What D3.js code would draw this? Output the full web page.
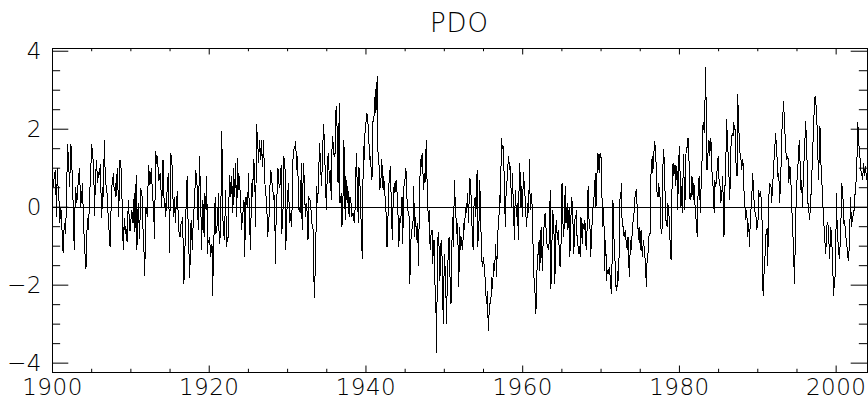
<!DOCTYPE html>
<html>
<head>
<meta charset="utf-8">
<script src="https://cdnjs.cloudflare.com/ajax/libs/d3/7.8.5/d3.min.js"></script>
<style>
  body { margin: 0; background: #fff; }
  svg text { font-family: "DejaVu Sans", sans-serif; font-weight: 200; fill: #000; }
</style>
</head>
<body>
<div id="chart"></div>
<script>
// monthly PDO index (Jan 1900 .. Dec 2003)
const startYear = 1900

const pdo1900s = [
  1.3, 0.9, 0.5, 0.7, 0.8, 0.95, 0.4, -0.26, 1.0, 0.6, 0.3, 0.1,
  -0.43, 0.0, -0.1, -0.5, -0.8, -1.2, -0.7, -0.43, -0.5, -0.7, 0.2, 0.9,
  1.6, 1.2, 0.9, 0.5, 1.1, 1.6, 1.2, 0.8, 0.3, -0.4, -1.1, -0.2,
  0.5, 0.3, 0.1, 0.3, 0.6, 0.8, 1.0, 0.5, 0.0, 0.2, 0.4, 0.6,
  -0.5, -0.7, -1.1, -1.3, -1.6, -0.9, -0.43, -0.3, -0.6, 0.0, 0.4, 0.9,
  1.2, 1.6, 1.3, 1.2, 1.0, -0.25, 0.4, 0.8, 1.2, 0.9, 0.6, 0.9,
  0.8, 0.9, 1.1, 0.4, -0.3, 0.1, 0.5, 0.25, 1.7, 1.1, 0.7, 0.5,
  0.43, 0.1, -0.25, -0.5, -0.8, -1.03, -0.3, 0.2, 0.6, 0.7, 0.86, 0.5,
  0.4, 0.6, 0.25, 0.6, 1.0, 0.5, -0.26, 0.4, 1.2, 1.1, 0.95, 0.3,
  -0.2, -1.1, -0.6, -0.3, -0.69, -0.5, -0.7, -0.9, -0.3, 0.17, -0.2, -0.6
]
const pdo1910s = [
  -0.6, -0.3, -0.09, -0.2, -0.43, 0.0, 0.34, -0.65, 0.1, 0.82, -1.12, -0.4,
  0.09, -0.3, -0.82, -0.2, 0.47, 0.3, 0.26, -0.4, -0.9, -1.2, -1.77, -0.8,
  0.0, -0.1, -0.26, 0.5, 1.08, 0.8, 0.56, 0.7, 0.99, 0.6, 0.43, 0.0,
  -0.3, -0.82, 0.5, 1.42, 1.1, 1.3, 1.21, 0.65, 0.7, 0.8, 0.86, 0.4,
  0.0, 0.6, 1.2, 0.5, 0.0, 0.1, -0.26, 0.0, 0.34, 0.6, 0.86, 0.2,
  -1.2, 0.3, 1.38, 1.2, 1.03, 0.4, -0.26, 0.26, 0.0, -0.43, 0.0, 0.2,
  0.39, -0.1, -0.6, -0.7, -0.78, -0.5, -0.4, -0.39, -0.26, -1.1, -1.98, -1.3,
  -0.86, -0.2, 0.4, 0.78, -0.1, -0.86, -1.3, -1.82, -0.9, -0.34, -0.7, -1.12,
  -0.5, -0.2, 0.09, 0.5, 0.95, 0.8, 0.6, 0.0, -0.6, 0.4, 1.29, 0.5,
  -0.09, -1.12, -0.4, 0.17, -0.3, -0.78, 0.34, 0.1, -0.09, 0.78, -1.21, -0.9
]
const pdo1920s = [
  -0.9, -0.78, -1.0, -1.29, -1.1, -0.95, -2.28, -1.4, -0.78, -0.2, 0.26, -0.69,
  -0.6, -0.43, -0.1, 0.34, -0.95, -0.8, -0.78, 0.5, 1.94, 0.6, -0.52, -0.7,
  -0.86, -0.2, 0.43, -1.03, -0.9, -0.8, -0.78, 0.2, 0.82, 0.5, 0.26, 0.78,
  0.4, -0.17, 0.99, 0.6, 0.26, 1.12, 0.4, -0.26, 1.25, 0.8, 0.43, 0.78,
  0.4, 0.17, -0.6, -0.4, -0.26, 0.0, 0.17, -1.29, -0.5, 0.26, 0.1, 0.0,
  0.3, 0.86, -0.09, -0.6, -1.12, 0.0, 0.6, 0.26, 0.8, 1.21, 0.95, 0.3,
  -0.52, 2.11, 1.9, 1.8, 1.12, 1.4, 1.72, 1.21, 1.5, 1.72, 1.03, 1.3,
  1.72, 1.0, 0.6, 0.43, 0.2, 0.0, -0.78, -0.6, -0.52, 0.26, 0.6, 0.95,
  0.78, 0.6, 0.52, 0.17, 0.3, 0.26, -1.47, -0.5, 0.09, 0.5, 0.99, 0.7,
  0.5, 0.52, 0.8, 1.08, -0.69, -0.2, 0.0, 1.29, 1.1, 0.95, -1.12, -0.4
]
const pdo1930s = [
  0.0, 0.3, 0.6, 0.1, -0.43, -0.3, -0.17, -0.52, 0.3, 1.21, 1.4, 1.55,
  1.5, 1.68, 1.3, 0.95, 1.29, 0.6, -0.09, 0.0, -0.17, 0.5, 1.12, -0.6,
  0.3, 1.12, 0.78, 0.3, -0.26, -0.1, 0.09, -0.3, -0.86, 0.26, 0.2, 0.17,
  0.09, -0.2, -0.43, -0.5, -0.6, -1.81, -2.33, -1.6, -1.12, 0.52, 0.3, 0.09,
  0.78, 1.2, 1.64, 1.03, 0.8, 0.52, 1.29, 1.7, 2.11, 1.64, 1.1, 0.69,
  -0.09, 0.5, 1.12, 1.38, 1.0, 0.6, 0.95, 0.5, 0.17, 1.81, 1.72, 1.5,
  1.29, 1.3, 1.47, 2.59, 2.2, 1.9, 0.6, 1.6, 2.67, 0.09, 0.2, 0.34,
  -0.52, 0.0, 0.43, 1.72, 0.6, -0.34, 0.78, 0.4, 0.09, 0.52, 0.1, -0.26,
  0.26, 0.2, 0.09, -0.26, -0.2, -0.17, -0.3, -0.43, -0.09, 0.6, 1.38, 0.78,
  0.3, -0.43, 1.03, 0.7, 0.43, -0.26, -0.6, -1.34, 0.43, 1.55, 1.2, 1.81
]
const pdo1940s = [
  2.07, 2.2, 2.41, 2.33, 2.1, 1.9, 1.21, 1.3, 1.12, 0.9, 0.69, 2.16,
  2.2, 2.33, 2.41, 3.02, 2.41, 2.8, 3.36, 1.47, 1.2, 1.03, 0.43, 0.6,
  0.78, 1.21, 0.8, 0.43, 0.78, 0.5, 0.26, 0.09, -0.4, -1.03, -0.5, 0.0,
  0.6, 0.8, 1.03, 0.43, 0.0, -0.86, -0.09, 0.3, 0.6, 0.34, 0.5, 0.69,
  0.52, 0.1, -0.26, -1.03, -0.6, -0.26, -0.43, 0.0, 0.26, -0.95, -0.2, 0.52,
  0.6, 0.8, 0.99, 0.4, 0.09, -0.09, -0.2, -0.26, -1.98, -1.0, -0.78, -0.6,
  -0.5, -0.34, 0.52, -0.78, -0.5, -0.26, -0.86, -0.6, -0.43, -1.51, -0.6, 0.26,
  1.21, 1.0, 1.21, 1.38, 0.9, 0.43, 0.86, 0.6, 0.78, 1.72, 0.9, 0.17,
  -0.17, -0.4, -0.09, -1.12, -0.8, -0.6, -0.6, -1.47, -1.0, -0.86, -1.81, -2.2,
  -2.67, -3.75, -1.5, -0.78, -0.65, -1.2, -1.9, -1.12, -0.86, -1.2, -1.55, -3.02
]
const pdo1950s = [
  -2.0, -1.21, -1.6, -1.98, -3.02, -2.2, -1.55, -1.1, -0.78, -1.64, -2.0, -2.5,
  -1.12, -0.6, -0.26, -1.03, 0.69, 0.3, -0.09, -0.4, -0.69, -0.43, -1.2, -2.07,
  -0.52, -0.8, -1.12, -0.78, -0.9, -1.12, -0.43, -0.6, -0.52, 0.0, -0.1, -0.17,
  0.34, 0.0, -0.43, 0.43, 0.73, 0.5, 0.17, -0.43, -0.8, -1.12, 0.0, 0.1,
  0.26, -0.26, 0.4, 0.95, -1.03, -0.6, -0.34, 0.69, 0.0, -0.7, -1.29, -1.55,
  -1.4, -1.29, -1.64, -1.8, -1.98, -2.5, -2.3, -2.16, -3.19, -2.8, -2.67, -2.4,
  -2.5, -1.81, -2.1, -1.98, -1.47, -1.5, -1.64, -0.95, -1.3, -1.81, -0.78, -0.6,
  -0.43, 0.0, 0.3, 0.09, 1.77, 1.6, 1.47, 1.55, 1.0, 0.52, -0.52, 0.2,
  0.52, 0.69, 1.0, 1.29, 1.1, 0.95, 1.03, 0.4, 0.0, 0.86, 0.3, -0.17,
  -0.86, 0.0, 0.43, -0.26, 0.0, 0.09, -0.86, 0.3, 1.12, 0.78, 0.0, 0.52
]
const pdo1960s = [
  -0.26, 0.3, 0.9, 0.6, 0.43, -0.09, -0.3, -0.52, 0.09, 0.0, -0.17, 1.21,
  0.3, -0.09, 0.34, 0.09, -0.6, -1.21, -1.81, -2.0, -2.33, -2.76, -2.0, -1.47,
  -1.29, -1.0, -0.86, -1.64, -1.0, -0.52, -1.1, -1.64, -0.95, -0.6, -0.43, -0.17,
  -0.4, -0.69, -0.95, -1.0, -1.12, -1.03, -0.3, 0.43, -2.11, -1.2, -0.69, -0.09,
  -0.5, -0.78, -1.98, -1.0, -0.34, -0.6, -0.86, -0.6, -0.9, -1.12, -1.55, -1.1,
  -0.78, 0.6, -0.1, -0.78, -0.6, 0.0, 0.52, -0.43, -0.2, 0.09, -0.6, -0.3,
  0.0, -1.29, -0.6, -0.09, 0.26, -0.1, -0.52, -1.21, -0.7, -0.26, -0.3, -0.09,
  -0.78, -0.9, -1.12, -1.21, -1.0, -1.29, -0.26, -0.6, -0.95, -0.43, -0.5, -0.6,
  -0.34, -0.7, -1.12, -0.86, 0.0, 0.52, -0.26, -0.4, -0.6, -1.29, -0.8, -0.43,
  -0.09, 0.1, 0.26, 0.5, 0.86, 0.0, 0.6, 1.03, 1.38, 1.1, 0.86, 1.34
]
const pdo1970s = [
  1.38, 1.21, 0.43, -0.52, -0.2, 0.0, -1.64, -1.2, -0.86, -1.9, -1.7, -1.64,
  -1.72, -1.6, -1.55, -1.98, -2.1, -2.24, -0.8, 0.17, -0.6, -1.0, -1.29, -2.07,
  -2.0, -2.16, -1.64, -1.8, -1.9, 0.17, 0.2, 0.26, 0.6, -0.43, -0.5, -0.52,
  -0.78, -0.7, -0.6, -0.86, -1.0, -1.12, -0.78, -1.2, -1.81, -1.3, -0.86, -1.12,
  -0.8, -0.52, -0.34, -0.2, -0.09, 0.34, 0.4, 0.43, 0.0, -0.4, -0.86, -0.52,
  -0.8, -1.12, -0.6, -1.0, -1.29, -1.0, -0.86, -1.12, -1.3, -1.47, -2.07, -1.47,
  -1.3, -1.12, -0.78, -0.7, -0.69, 0.78, 1.0, 1.29, 0.86, 1.2, 1.47, 1.68,
  1.4, 1.12, 0.43, 0.3, 0.26, 0.6, 0.4, 0.26, -0.52, -0.6, -0.69, 0.4,
  1.47, 1.38, 0.7, 0.26, -0.34, -0.4, -0.52, 0.09, -0.1, -0.26, -0.78, -1.0,
  -1.38, 0.26, 0.7, 1.12, 0.78, 0.9, 1.08, 0.52, 0.8, 1.03, -0.09, 0.6
]
const pdo1980s = [
  1.29, 1.55, 0.6, 0.0, 0.52, -0.17, 0.5, 1.34, 0.6, -0.09, 0.7, 1.47,
  1.5, 1.55, 1.77, 1.3, 1.03, 0.17, 0.3, 0.26, 0.78, 0.5, 0.17, 0.6,
  0.3, -0.09, -0.3, -0.43, -0.78, 0.2, 0.52, 0.78, 0.3, -0.17, 0.6, 1.0,
  1.47, 2.16, 2.0, 1.9, 2.76, 3.58, 2.0, 0.95, 1.21, 1.5, 1.72, 1.29,
  1.5, 1.77, 1.12, 0.8, 0.6, 0.2, -0.17, 0.69, 0.5, 0.6, 0.86, 1.0,
  1.29, 0.78, 0.6, 0.52, 0.09, 0.2, 0.43, 0.78, 0.0, -0.78, 0.17, 0.8,
  1.29, 2.24, 1.8, 1.47, 1.12, 0.6, 0.17, 1.38, 1.6, 1.81, 1.9, 1.81,
  2.16, 2.0, 1.98, 1.21, 1.0, 0.78, 2.89, 2.3, 1.9, 1.47, 1.3, 1.21,
  0.95, 1.1, 1.21, 0.6, 0.3, 0.09, -0.34, -0.2, -0.09, -0.78, -0.6, -0.43,
  -1.03, -0.5, -0.17, 0.1, 0.43, 0.86, 0.5, 0.17, -0.09, -0.2, -0.26, -0.6
]
const pdo1990s = [
  -0.5, -0.43, 0.43, 0.3, 0.26, 0.39, 0.2, 0.09, -1.81, -2.28, -1.8, -1.55,
  -1.2, -0.78, -0.6, -0.56, -1.51, -0.4, 0.34, 0.6, 0.55, 0.52, 0.09, 0.4,
  0.69, 1.03, 1.3, 1.55, 1.9, 1.6, 1.38, 0.78, 0.8, 0.86, 0.09, 0.4,
  0.6, 1.9, 2.0, 2.24, 2.71, 2.4, 2.07, 1.6, 1.38, 1.21, 1.25, 1.29,
  0.6, 0.8, 1.03, 0.86, 0.4, -0.09, -0.52, -0.9, -1.38, -1.98, -1.0, -0.26,
  0.6, 0.7, 0.86, 1.47, 1.6, 1.72, 0.43, 0.6, 0.69, -0.04, 0.5, 1.03,
  1.3, 1.72, 2.2, 1.8, 1.38, 0.26, 0.0, -0.13, -0.34, -0.1, 0.17, 0.69,
  1.0, 1.47, 2.07, 2.4, 2.8, 2.84, 2.6, 2.41, 1.72, 1.2, 0.69, 1.5,
  2.07, 1.29, 0.9, 0.6, 0.17, -0.1, -0.43, -0.78, -1.0, -1.21, -0.52, -0.45,
  -0.39, -0.69, -1.0, -1.34, -0.52, -0.6, -0.78, -1.38, -1.8, -2.28, -1.9, -1.8
]
const pdo2000s = [
  -1.72, 0.34, -0.3, -0.78, -1.0, -1.21, -1.34, -0.9, -0.52, 0.6, 0.5, 0.43,
  -0.43, -0.4, -0.34, -0.78, -0.8, -0.86, -1.29, -1.3, -1.38, -0.86, -0.3, 0.26,
  -0.52, -0.4, -0.34, -0.17, -0.1, -0.09, 0.52, 0.6, 0.78, 1.5, 2.16, 1.72,
  1.5, 1.38, 0.95, 0.9, 0.86, 0.69, 0.9, 1.12, 0.78, 0.9, 1.03, 0.69
]

const yearTicks = [1900, 1920, 1940, 1960, 1980, 2000]
const yearMinorTicks = d3.range(1905, 2004, 5).filter(d => d % 20 !== 0)
const valueTicks = [-4, -2, 0, 2, 4]
const valueMinorTicks = d3.range(-4, 4.01, 0.5).filter(d => d % 2 !== 0)
const chartTitle = 'PDO'

const pdo = [].concat(pdo1900s, pdo1910s, pdo1920s, pdo1930s, pdo1940s,
                      pdo1950s, pdo1960s, pdo1970s, pdo1980s, pdo1990s, pdo2000s)
const chartData = pdo.map((v, i) => ({date: startYear + i / 12, value: v}))

const width = 868
const height = 404
const margin = {top: 48, right: 1, bottom: 32, left: 52}
const innerW = width - margin.left - margin.right
const innerH = height - margin.top - margin.bottom
// IDL style tick lengths: 2% of the plot size, minor ticks half of that
const xTick = 0.02 * innerH
const yTick = 0.02 * innerW

const svg = d3.select('#chart').append('svg')
    .attr('width', width)
    .attr('height', height)

const g = svg.append('g')
    .attr('transform', `translate(${margin.left},${margin.top})`)

// scales
const xScale = d3.scaleLinear()
    .domain([1900, 2004])
    .range([0, innerW])

const yScale = d3.scaleLinear()
    .domain([-4.24, 4.07])
    .range([innerH, 0])

function addAxis(axis, transform) {
    const a = g.append('g')
        .attr('transform', transform)
        .call(axis)
    a.select('.domain').remove()
    a.selectAll('line').attr('stroke', '#000')
    a.selectAll('text')
        .style('font-size', '23px')
        .style('letter-spacing', '0.5px')
    return a
}

// bottom and top axis
addAxis(d3.axisBottom(xScale).tickValues(yearTicks).tickSizeInner(-xTick).tickSizeOuter(0)
    .tickPadding(7).tickFormat(d3.format('d')), `translate(0,${innerH})`)
addAxis(d3.axisBottom(xScale).tickValues(yearMinorTicks).tickSizeInner(-xTick / 2).tickSizeOuter(0)
    .tickFormat(''), `translate(0,${innerH})`)
addAxis(d3.axisTop(xScale).tickValues(yearTicks).tickSizeInner(-xTick).tickSizeOuter(0)
    .tickFormat(''), null)
addAxis(d3.axisTop(xScale).tickValues(yearMinorTicks).tickSizeInner(-xTick / 2).tickSizeOuter(0)
    .tickFormat(''), null)

// left and right axis
addAxis(d3.axisLeft(yScale).tickValues(valueTicks).tickSizeInner(-yTick).tickSizeOuter(0)
    .tickPadding(10).tickFormat(d3.format('d')), null)
addAxis(d3.axisLeft(yScale).tickValues(valueMinorTicks).tickSizeInner(-yTick / 2).tickSizeOuter(0)
    .tickFormat(''), null)
addAxis(d3.axisRight(yScale).tickValues(valueTicks).tickSizeInner(-yTick).tickSizeOuter(0)
    .tickFormat(''), `translate(${innerW},0)`)
addAxis(d3.axisRight(yScale).tickValues(valueMinorTicks).tickSizeInner(-yTick / 2).tickSizeOuter(0)
    .tickFormat(''), `translate(${innerW},0)`)

// zero line
g.append('line')
    .attr('x1', 0)
    .attr('x2', innerW)
    .attr('y1', Math.round(yScale(0)) + 0.5)
    .attr('y2', Math.round(yScale(0)) + 0.5)
    .attr('stroke', '#000')
    .attr('stroke-width', 1)

// the series
const line = d3.line()
    .x(d => xScale(d.date))
    .y(d => yScale(d.value))

g.append('path')
    .datum(chartData)
    .attr('d', line)
    .attr('fill', 'none')
    .attr('stroke', '#000')
    .attr('stroke-width', 1)
    .attr('shape-rendering', 'crispEdges')

// frame
g.append('rect')
    .attr('x', 0.5)
    .attr('y', 0.5)
    .attr('width', innerW)
    .attr('height', innerH)
    .attr('fill', 'none')
    .attr('stroke', '#000')

// title
svg.append('text')
    .attr('x', margin.left + innerW / 2)
    .attr('y', 32)
    .attr('text-anchor', 'middle')
    .style('font-size', '26px')
    .style('letter-spacing', '1px')
    .text(chartTitle)
</script>
</body>
</html>
